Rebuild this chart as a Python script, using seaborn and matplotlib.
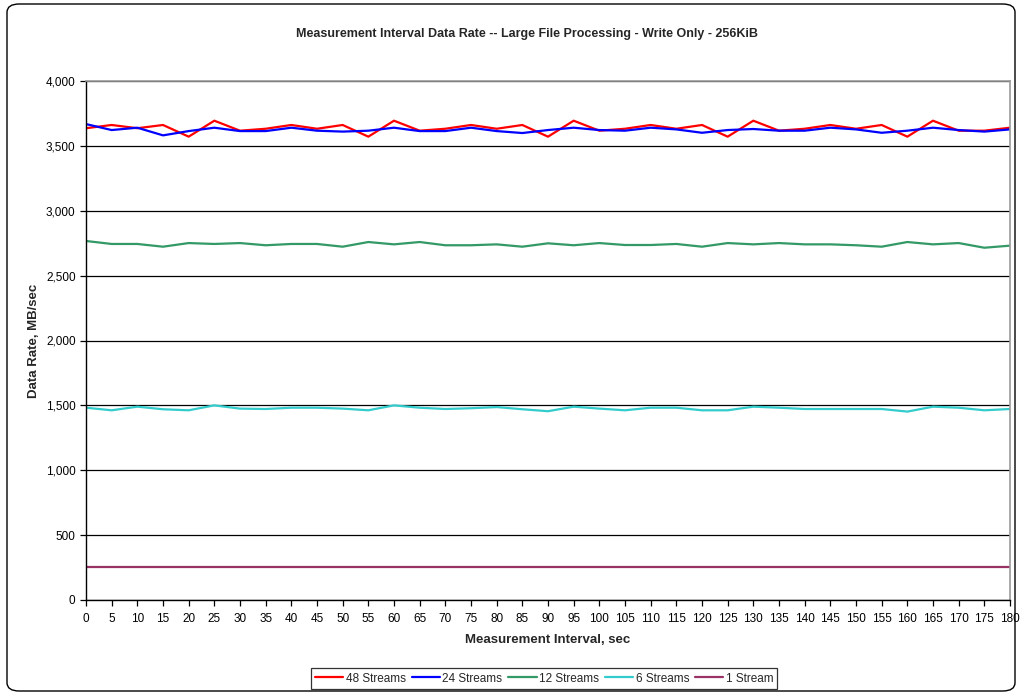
import numpy as np
import pandas as pd
import matplotlib
matplotlib.use("Agg")
import matplotlib.pyplot as plt
from matplotlib.patches import FancyBboxPatch
from matplotlib.ticker import FuncFormatter, MultipleLocator
import seaborn as sns

intervals = list(range(0, 181, 5))
series_names = ["48 Streams", "24 Streams", "12 Streams", "6 Streams", "1 Stream"]
colors = ["#FF0000", "#0000FF", "#339966", "#33CCCC", "#993366"]

s48 = [3636, 3661, 3636, 3661, 3571, 3694, 3617, 3632, 3661, 3632, 3661, 3571, 3694,
       3617, 3632, 3661, 3632, 3661, 3571, 3694, 3617, 3632, 3661, 3632, 3661, 3571,
       3694, 3617, 3632, 3661, 3632, 3661, 3571, 3694, 3617, 3617, 3640]
s24 = [3668, 3622, 3640, 3581, 3614, 3640, 3614, 3614, 3640, 3617, 3610, 3617, 3640,
       3614, 3614, 3640, 3614, 3599, 3622, 3640, 3622, 3617, 3640, 3627, 3601, 3622,
       3630, 3617, 3617, 3640, 3627, 3601, 3617, 3640, 3622, 3610, 3627]
s12 = [2767, 2744, 2744, 2723, 2751, 2744, 2751, 2734, 2744, 2744, 2723, 2759, 2741,
       2759, 2734, 2734, 2741, 2723, 2749, 2734, 2751, 2736, 2736, 2744, 2723, 2751,
       2741, 2751, 2741, 2741, 2734, 2723, 2759, 2741, 2751, 2715, 2731]
s6 = [1482, 1462, 1490, 1470, 1462, 1500, 1475, 1472, 1482, 1482, 1475, 1462, 1500,
      1482, 1472, 1478, 1487, 1470, 1455, 1490, 1475, 1462, 1482, 1482, 1462, 1462,
      1490, 1482, 1472, 1472, 1472, 1472, 1452, 1490, 1482, 1462, 1472]
s1 = [252] * len(intervals)

frames = []
for name, vals in zip(series_names, [s48, s24, s12, s6, s1]):
    frames.append(pd.DataFrame({"Interval": intervals, "Rate": vals, "Series": name}))
df = pd.concat(frames, ignore_index=True)

sns.set_theme(style="white")
plt.rcParams["font.family"] = ["Liberation Sans", "DejaVu Sans"]

fig = plt.figure(figsize=(10.23, 6.92), dpi=100)
ax = fig.add_axes([86 / 1023, 92 / 692, 924 / 1023, 519 / 692])

sns.lineplot(data=df, x="Interval", y="Rate", hue="Series", hue_order=series_names,
             palette=colors, linewidth=1.6, ax=ax, legend=False)

ax.set_xlim(0, 180)
ax.set_ylim(0, 4000)
ax.xaxis.set_major_locator(MultipleLocator(5))
ax.yaxis.set_major_locator(MultipleLocator(500))
ax.yaxis.set_major_formatter(FuncFormatter(lambda v, p: f"{int(v):,}"))
ax.grid(axis="y", color="black", linewidth=0.9)
ax.grid(axis="x", visible=False)
ax.set_axisbelow(True)
ax.tick_params(axis="both", direction="out", length=4, width=0.9, colors="black",
               labelsize=8.5, bottom=True, left=True)
ax.tick_params(axis="x", pad=5)
for side in ["top", "right"]:
    ax.spines[side].set_color("#999999")
    ax.spines[side].set_linewidth(1.2)
for side in ["left", "bottom"]:
    ax.spines[side].set_color("black")
    ax.spines[side].set_linewidth(1.0)

ax.set_xlabel("Measurement Interval, sec", fontsize=9.5, fontweight="bold", labelpad=7)
ax.set_ylabel("Data Rate, MB/sec", fontsize=9.5, fontweight="bold", labelpad=4)
fig.text(0.515, 0.951, "Measurement Interval Data Rate -- Large File Processing - Write Only - 256KiB",
         ha="center", va="center", fontsize=9, fontweight="bold")

handles = [plt.Line2D([0], [0], color=c, lw=1.6) for c in colors]
leg = fig.legend(handles, series_names, loc="center", bbox_to_anchor=(0.532, 0.0195),
                 ncol=5, fontsize=8.5, frameon=True, fancybox=False, handlelength=2.4,
                 handletextpad=0.2, columnspacing=0.5, borderpad=0.35)
leg.get_frame().set_edgecolor("black")
leg.get_frame().set_linewidth(0.9)

border = FancyBboxPatch((7 / 1023, 1 / 692), 1008 / 1023, 687 / 692,
                        boxstyle="round,pad=0,rounding_size=0.012",
                        transform=fig.transFigure, fill=False, edgecolor="black",
                        linewidth=1.0, zorder=0)
fig.patches.append(border)

fig.savefig("out.png", dpi=100)
